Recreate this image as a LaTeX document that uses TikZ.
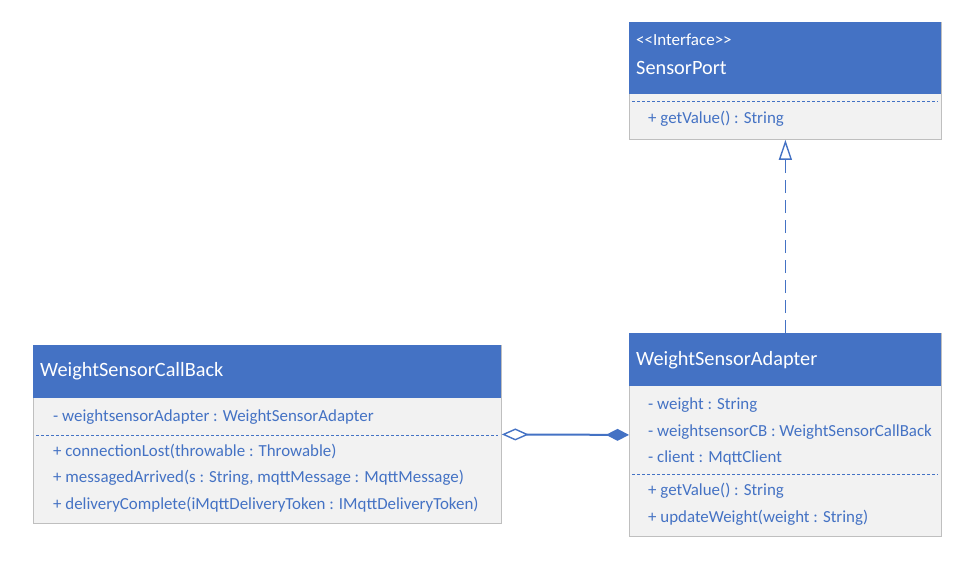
\documentclass[tikz,border=0pt]{standalone}
\usepackage{fontspec}
\setmainfont{Carlito}
\usetikzlibrary{arrows.meta}
\definecolor{hdr}{HTML}{4472C4}
\definecolor{bodyfill}{HTML}{F2F2F2}
\definecolor{edge}{HTML}{BFBFBF}
\definecolor{txt}{HTML}{4472C4}
\tikzset{
  classbox/.style={draw=edge, fill=bodyfill, line width=0.8pt, anchor=north west, inner sep=0pt},
  hdrbox/.style={fill=hdr, anchor=north west, inner sep=0pt},
  title/.style={anchor=west, text=white, font=\fontsize{20.3}{22}\selectfont, inner sep=0pt},
  stereo/.style={anchor=west, text=white, font=\fontsize{17}{19}\selectfont, inner sep=0pt},
  member/.style={anchor=west, text=txt, font=\fontsize{16.9}{18}\selectfont, inner sep=0pt},
  sep/.style={draw=txt, line width=1pt, dash pattern=on 3pt off 2pt},
  conn/.style={draw=txt, line width=2pt},
}
\begin{document}
\begin{tikzpicture}[x=1pt,y=-1pt]
\useasboundingbox (0,0) rectangle (978,565);
% SensorPort
\node[classbox, minimum width=312pt, minimum height=117pt] (sp) at (629,22) {};
\node[hdrbox, minimum width=312pt, minimum height=72pt] (sph) at (629,22) {};
\node[stereo] (spst) at (636,40) {{<}{<}Interface{>}{>}};
\node[title] (spt) at (636,68) {SensorPort};
\draw[sep] (632,101) -- (938,101);
\node[member] (spm1) at (648,119) {+ getValue() : String};
% WeightSensorAdapter
\node[classbox, minimum width=312pt, minimum height=203pt] (wsa) at (629,333) {};
\node[hdrbox, minimum width=312pt, minimum height=53pt] (wsah) at (629,333) {};
\node[title] (wsat) at (636,360) {WeightSensorAdapter};
\node[member] (wsaa1) at (648,405) {- weight : String};
\node[member] (wsaa2) at (648,432) {- weightsensorCB : WeightSensorCallBack};
\node[member] (wsaa3) at (648,458) {- client : MqttClient};
\draw[sep] (632,474) -- (938,474);
\node[member] (wsam1) at (648,491) {+ getValue() : String};
\node[member] (wsam2) at (648,518) {+ updateWeight(weight : String)};
% WeightSensorCallBack
\node[classbox, minimum width=468pt, minimum height=178pt] (cb) at (33,345) {};
\node[hdrbox, minimum width=468pt, minimum height=53pt] (cbh) at (33,345) {};
\node[title] (cbt) at (40,371) {WeightSensorCallBack};
\node[member] (cba1) at (53,417) {- weightsensorAdapter : WeightSensorAdapter};
\draw[sep] (36,435) -- (498,435);
\node[member] (cbm1) at (53,451) {+ connectionLost(throwable : Throwable)};
\node[member] (cbm2) at (53,478) {+ messagedArrived(s : String, mqttMessage : MqttMessage)};
\node[member] (cbm3) at (53,505) {+ deliveryComplete(iMqttDeliveryToken : IMqttDeliveryToken)};
% realization
\draw[conn, line width=1.6pt, dash pattern=on 13pt off 7pt, -{Triangle[open, length=20pt, width=13pt, line width=1.4pt]}] (wsa.north) -- (sp.south);
% aggregation / composition
\draw[conn, {Diamond[open, length=27pt, width=12pt, line width=1.4pt]}-{Diamond[length=23pt, width=12pt]}] (cb.east) -- (wsa.west);
\end{tikzpicture}
\end{document}
